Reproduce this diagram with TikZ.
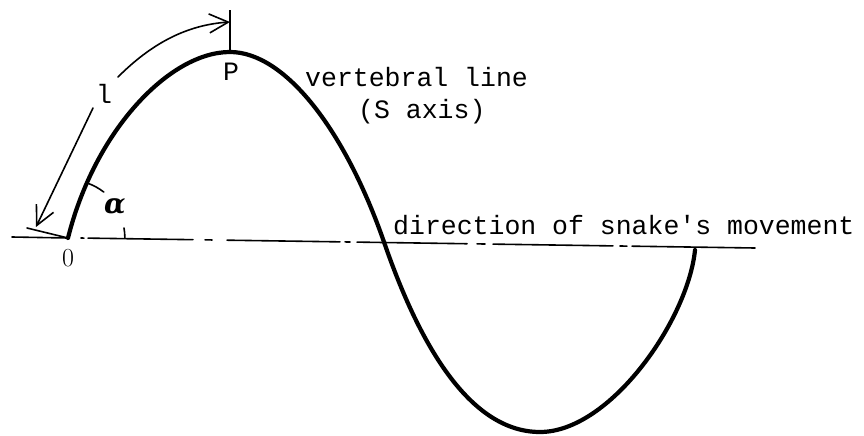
\documentclass[tikz,border=0pt]{standalone}
\usepackage{fontspec}
\setmonofont{Liberation Mono}
\newfontfamily\greekfont{DejaVu Serif}
\usetikzlibrary{arrows.meta}
\tikzset{
  thinline/.style={line width=1.6pt, line cap=round},
  snake/.style={line width=4.2pt, line cap=round, line join=round},
  dimarrow/.style={thinline, -{Straight Barb[length=19pt, width=19pt, line width=1.6pt]}},
  lbl/.style={font=\fontsize{26.5}{30}\selectfont\ttfamily, inner sep=0pt},
  greek/.style={font=\fontsize{28}{30}\selectfont\greekfont\bfseries\itshape, inner sep=0pt},
}
\begin{document}
\begin{tikzpicture}[x=1pt, y=-1pt]
\useasboundingbox (0,0) rectangle (864,436);
% key points
\coordinate (O) at (68,238);
\coordinate (Ptop) at (230,52);
\coordinate (C) at (384,242);
\coordinate (T) at (540,432);
\coordinate (E) at (695,250);
\coordinate (tickTop) at (230,10);
\coordinate (extEnd) at (27,228);
\coordinate (d1s) at (118,77);
\coordinate (d1e) at (230,22);
\coordinate (d2s) at (93,108);
\coordinate (d2e) at (36,227);
% axis (direction of movement)
\draw[thinline] (12,237) -- (O);
\foreach \a/\b in {81/84, 88/193, 205/212, 227/340, 345/350, 357/467, 477/485, 493/613, 620/627, 632/755}{
  \draw[thinline] (\a,{237+11*(\a-12)/743}) -- (\b,{237+11*(\b-12)/743});
}
% vertebral line
\draw[snake] (O) .. controls (95,130) and (170,52) .. (Ptop)
  .. controls (285,52) and (345,130) .. (C)
  .. controls (415,332) and (465,432) .. (T)
  .. controls (610,432) and (688,320) .. (E);
% tick at P
\draw[line width=2.2pt] (Ptop) -- (tickTop);
% extension line at O
\draw[thinline] (O) -- (extEnd);
% dimension arrows
\draw[dimarrow] (d1s) .. controls (150,45) and (185,25) .. (d1e);
\draw[dimarrow] (d2s) -- (d2e);
% angle arc
\draw[thinline] (O) ++(20.5,-54.5) arc[start angle=-69.4, end angle=-52, radius=58];
\draw[thinline] (O) ++(56,-10) arc[start angle=-10, end angle=0, radius=57];
% labels
\node[lbl] (lab1) at (104,94) {l};
\node[greek] (lab2) at (115,207) {α};
\node[lbl] (lab3) at (231,72) {P};
\node[lbl, font=\fontsize{26}{30}\selectfont\rmfamily] (lab4) at (68,258) {0};
\node[lbl, anchor=west] (vl) at (305,77) {vertebral line};
\node[lbl, anchor=west] (sa) at (358,112) {(S axis)};
\node[lbl, anchor=west] (dir) at (393,225) {direction of snake's movement};
\end{tikzpicture}
\end{document}
